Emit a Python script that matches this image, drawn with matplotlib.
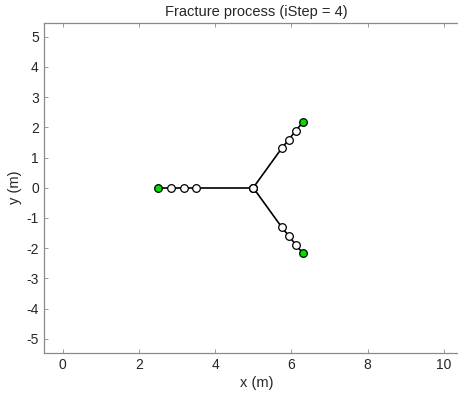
import matplotlib.pyplot as plt
import numpy as np

plt.rcParams['font.family'] = ['Liberation Sans', 'DejaVu Sans']
plt.rcParams['axes.unicode_minus'] = False

# fracture branches: center node (5, 0) out to tip (green)
left_x = [5.0, 3.5, 3.17, 2.83, 2.5]
left_y = [0.0, 0.0, 0.0, 0.0, 0.0]
up_x = [5.0, 5.75, 5.93, 6.11, 6.3]
up_y = [0.0, 1.31, 1.59, 1.88, 2.16]
down_x = [5.0, 5.75, 5.93, 6.11, 6.3]
down_y = [0.0, -1.31, -1.59, -1.88, -2.16]

title = 'Fracture process (iStep = 4)'

fig = plt.figure(figsize=(4.58, 3.99), dpi=100)
ax = fig.add_axes([0.0954, 0.116, 0.93, 0.827])

for bx, by in [(left_x, left_y), (up_x, up_y), (down_x, down_y)]:
    ax.plot(bx, by, '-', color='black', linewidth=1.2, zorder=2)
    # inner nodes white, tip green
    ax.plot(bx[:-1], by[:-1], 'o', markersize=5.5, markerfacecolor='white',
            markeredgecolor='black', markeredgewidth=0.9, zorder=3)
    ax.plot(bx[-1], by[-1], 'o', markersize=5.5, markerfacecolor='#00e000',
            markeredgecolor='black', markeredgewidth=0.9, zorder=3)

ax.set_xlim(-0.5, 10.68)
ax.set_ylim(-5.46, 5.46)
ax.set_xticks([0, 2, 4, 6, 8, 10])
ax.set_yticks(np.arange(-5, 6, 1))

ax.set_title(title, fontsize=10.5, color='#262626', pad=5)
ax.set_xlabel('x (m)', fontsize=10.5, color='#262626', labelpad=3)
ax.set_ylabel('y (m)', fontsize=10.5, color='#262626', labelpad=3)

for s in ax.spines.values():
    s.set_color('#8a8a8a')
    s.set_linewidth(0.9)
# right edge of the box falls outside the picture
ax.spines['right'].set_visible(False)
ax.tick_params(direction='in', length=3, width=0.6, colors='#8a8a8a',
               labelcolor='#262626', labelsize=10, top=True, right=False)

fig.savefig('out.png', dpi=100)
